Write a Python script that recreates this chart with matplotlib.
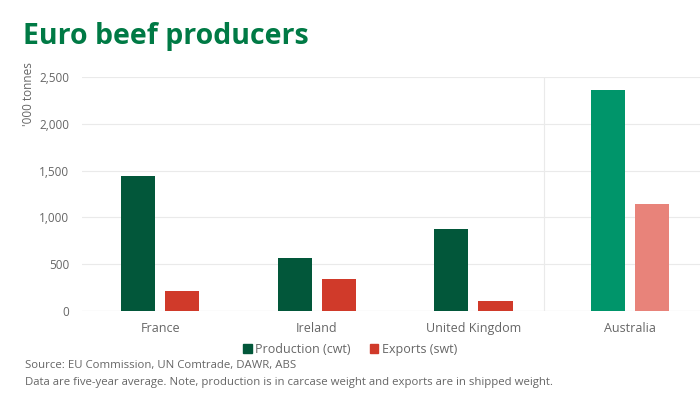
import matplotlib
matplotlib.use('Agg')
import matplotlib.pyplot as plt
from matplotlib.patches import Patch
import numpy as np

# ---------------- data ----------------
countries = ["France", "Ireland", "United Kingdom", "Australia"]
production = [1440, 570, 880, 2360]
exports = [215, 340, 110, 1145]
y_ticks = [0, 500, 1000, 1500, 2000, 2500]

prod_colors = ["#02573A", "#02573A", "#02573A", "#00956A"]
exp_colors = ["#D03A2A", "#D03A2A", "#D03A2A", "#E8837A"]

plt.rcParams['font.family'] = ['Open Sans', 'DejaVu Sans']

fig = plt.figure(figsize=(7, 3.96), dpi=100)
ax = fig.add_axes([0.117, 0.215, 0.895, 0.59])

x = np.arange(len(countries))
w = 0.218
ax.bar(x - 0.141, production, w, color=prod_colors, zorder=3)
ax.bar(x + 0.141, exports, w, color=exp_colors, zorder=3)

ax.set_xlim(-0.5, 3.5)
ax.set_ylim(0, 2500)
ax.set_yticks(y_ticks)
ax.set_yticklabels([f"{v:,}" for v in y_ticks])
ax.set_xticks(x)
ax.set_xticklabels(countries)
ax.tick_params(axis='both', length=0, colors='#666666', labelsize=9)
ax.tick_params(axis='y', labelsize=8.5, pad=9)
ax.tick_params(axis='x', pad=8)
ax.grid(axis='y', color='#EAEAEA', linewidth=0.8, zorder=0)
for s in ax.spines.values():
    s.set_visible(False)
ax.axhline(0, color='#D9D9D9', linewidth=0.8, zorder=2)
ax.axvline(2.45, color='#EAEAEA', linewidth=0.8, zorder=1)

ax.set_ylabel("'000 tonnes", color='#666666', fontsize=8.5)
ax.yaxis.set_label_coords(-0.075, 0.93)

# title
fig.text(0.033, 0.89, "Euro beef producers", color='#007A45', fontsize=20.5,
         fontweight='bold', ha='left', va='baseline')

# legend
handles = [Patch(color="#02573A", label="Production (cwt)"),
           Patch(color="#D03A2A", label="Exports (swt)")]
fig.legend(handles=handles, loc='center', bbox_to_anchor=(0.5, 0.118), ncol=2,
           frameon=False, fontsize=9, handlelength=0.7, handleheight=0.7,
           handletextpad=0.3, columnspacing=1.5, labelcolor='#666666')

fig.text(0.036, 0.076, "Source: EU Commission, UN Comtrade, DAWR, ABS",
         color='#666666', fontsize=8.2, va='center')
fig.text(0.036, 0.033, "Data are five-year average. Note, production is in carcase weight and exports are in shipped weight.",
         color='#666666', fontsize=8.2, va='center')

fig.savefig("out.png", dpi=100, facecolor='white')
